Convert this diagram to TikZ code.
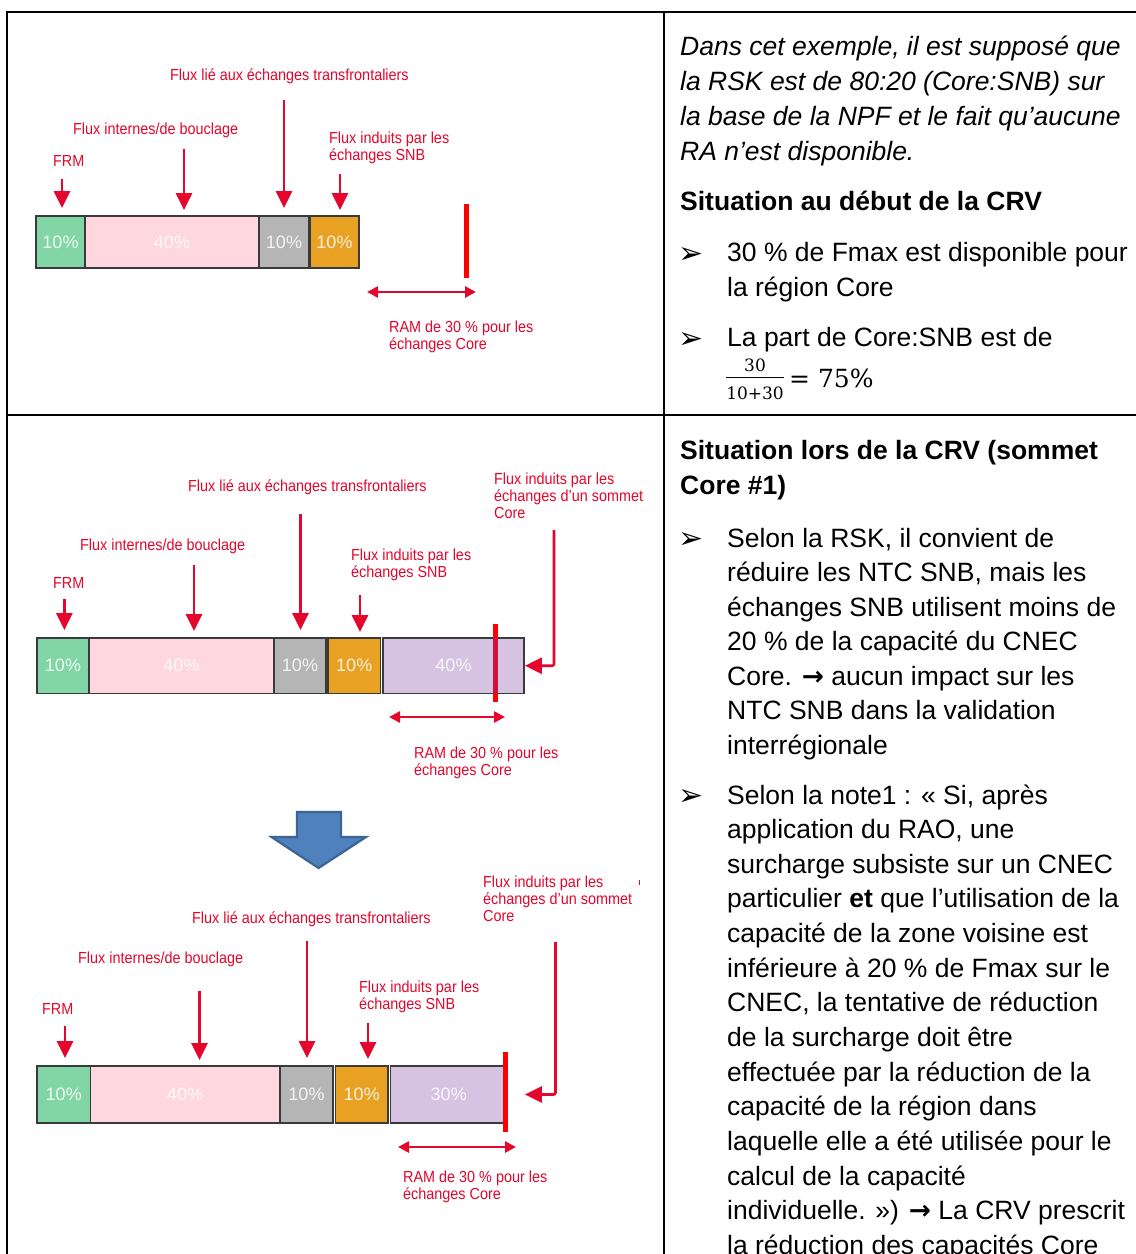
\documentclass[tikz,border=0pt]{standalone}
\usepackage{fontspec}
\setmainfont{Liberation Sans}
\newfontfamily\dvfont{DejaVu Sans}
\newfontfamily\numfont{DejaVu Serif}
\usetikzlibrary{arrows.meta}

\definecolor{lblred}{HTML}{E4062C}
\definecolor{linered}{HTML}{FF0000}
\definecolor{darkred}{HTML}{D0103C}
\definecolor{cgreen}{HTML}{82D5A4}
\definecolor{cpink}{HTML}{FFD7DE}
\definecolor{cgray}{HTML}{B5B5B5}
\definecolor{corange}{HTML}{E8A123}
\definecolor{cpurple}{HTML}{D6C3E2}
\definecolor{cellline}{HTML}{3A3A3A}
\definecolor{bfill}{HTML}{4F81BD}
\definecolor{bline}{HTML}{3C6494}

% red multi-line labels, one node per line
\newcommand\redlines[4]{\foreach \s [count=\k from 0] in {#4} {\node[lbl] (#1\k) at (#2,{#3+17*\k}) {\s};}}
% body text lines of the right column
\newcommand\bodylines[6]{\foreach \s [count=\k from 0] in {#6} {\node[rtxt,#4] (#1\k) at (#2,{#3+#5*\k}) {\s};}}
% bold arrow used inside the body text
\newcommand\txtarrow{{\dvfont\bfseries →}}

\begin{document}
\begin{tikzpicture}[x=1pt,y=-1pt,
  lbl/.style={anchor=base west, inner sep=0pt, text=lblred, font=\fontsize{16}{17}\selectfont, xscale=0.9},
  rtxt/.style={anchor=base west, inner sep=0pt, font=\fontsize{26.5}{30}\selectfont},
  rit/.style={font=\fontsize{26.5}{30}\selectfont\itshape},
  rbf/.style={font=\fontsize{26.5}{30}\selectfont\bfseries},
  bul/.style={anchor=base west, inner sep=0pt, font=\dvfont\fontsize{30}{30}\selectfont},
  cell/.style={draw=cellline, line width=1.8pt, inner sep=0pt, text=white, text opacity=0.85,
    font=\fontsize{18}{20}\selectfont},
  redarr/.style={draw=lblred, line width=2.6pt, -{Triangle[length=17pt,width=16pt]}},
  dblarr/.style={draw=lblred, line width=2.6pt, {Triangle[length=11pt,width=11pt]}-{Triangle[length=11pt,width=11pt]}},
  marker/.style={draw=linered, line width=5pt},
  frame/.style={draw=black, line width=2pt}]

\useasboundingbox (0,0) rectangle (1136,1254);
\fill[white] (0,0) rectangle (1136,1254);
\clip (0,0) rectangle (1136,1254);

% ---------- table rules ----------
\draw[frame] (6,12) -- (1136,12);
\draw[frame] (7,11) -- (7,1254);
\draw[frame] (664,12) -- (664,1254);
\draw[frame] (7,414.5) -- (1136,414.5);

% ---------- first bar: start of the CRV ----------
\node[cell, fill=cgreen,  minimum width=49pt,  minimum height=52pt] (p1g) at (60.5,242) {10\%};
\node[cell, fill=cpink,   minimum width=174pt, minimum height=52pt] (p1k) at (172,242) {40\%};
\node[cell, fill=cgray,   minimum width=50pt,  minimum height=52pt] (p1s) at (284,242) {10\%};
\node[cell, fill=corange, minimum width=49pt,  minimum height=52pt] (p1o) at (334.5,242) {10\%};

\redlines{pA}{170}{80.5}{Flux lié aux échanges transfrontaliers}
\redlines{pB}{73}{134.5}{Flux internes/de bouclage}
\redlines{pC}{53}{166.5}{FRM}
\redlines{pD}{329}{143.5}{Flux induits par les,échanges SNB}
\redlines{pE}{389}{332.5}{RAM de 30 \% pour les,échanges Core}

\coordinate (p1a1) at (62,179);
\coordinate (p1a2) at (184,149);
\coordinate (p1a3) at (284,100);
\coordinate (p1a4) at (340,174);
\draw[redarr, shorten >=7pt] (p1a1) -- (p1a1 |- p1g.north);
\draw[redarr, shorten >=5pt] (p1a2) -- (p1a2 |- p1k.north);
\draw[redarr, shorten >=7pt] (p1a3) -- (p1a3 |- p1s.north);
\draw[redarr, shorten >=5pt] (p1a4) -- (p1a4 |- p1o.north);

\coordinate (p1m1) at (466,204);
\coordinate (p1m2) at (466,278);
\draw[marker] (p1m1) -- (p1m2);
\coordinate (p1d1) at (367,292);
\coordinate (p1d2) at (476,292);
\draw[dblarr] (p1d1) -- (p1d2);

% ---------- second bar: Core #1 ----------
\node[cell, fill=cgreen,  minimum width=52pt,   minimum height=55.5pt] (p2g) at (63,665.75) {10\%};
\node[cell, fill=cpink,   minimum width=185pt,  minimum height=55.5pt] (p2k) at (181.5,665.75) {40\%};
\node[cell, fill=cgray,   minimum width=52pt,   minimum height=55.5pt] (p2s) at (300,665.75) {10\%};
\node[cell, fill=corange, minimum width=52.5pt, minimum height=55.5pt] (p2o) at (354.25,665.75) {10\%};
\node[cell, fill=cpurple, minimum width=141pt,  minimum height=55.5pt] (p2p) at (453.5,665.75) {40\%};

\redlines{qA}{188}{491.5}{Flux lié aux échanges transfrontaliers}
\redlines{qF}{494}{484.5}{Flux induits par les,échanges d’un sommet,Core}
\redlines{qB}{80}{550.5}{Flux internes/de bouclage}
\redlines{qD}{351}{560.5}{Flux induits par les,échanges SNB}
\redlines{qC}{53}{588.5}{FRM}
\redlines{qE}{414}{758.5}{RAM de 30 \% pour les,échanges Core}

\coordinate (p2a1) at (64.4,599);
\coordinate (p2a2) at (194,565);
\coordinate (p2a3) at (300.5,514);
\coordinate (p2a4) at (360,595);
\coordinate (p2a5) at (554,530);
\draw[redarr, shorten >=7pt] (p2a1) -- (p2a1 |- p2g.north);
\draw[redarr, shorten >=6pt] (p2a2) -- (p2a2 |- p2k.north);
\draw[redarr, shorten >=7pt] (p2a3) -- (p2a3 |- p2s.north);
\draw[redarr, shorten >=5pt] (p2a4) -- (p2a4 |- p2o.north);
\draw[redarr, rounded corners=2pt] (p2a5) |- (p2p.east);

\coordinate (p2m1) at (495,624);
\coordinate (p2m2) at (495,702);
\draw[marker] (p2m1) -- (p2m2);
\draw[marker, draw=darkred] (p2m1 |- p2p.north) -- (p2m1 |- p2p.south);
\coordinate (p2d1) at (389,717);
\coordinate (p2d2) at (505,717);
\draw[dblarr] (p2d1) -- (p2d2);

% ---------- transition arrow ----------
\draw[bline, fill=bfill, line width=2.2pt, line join=miter]
  (297,812) -- (341,812) -- (341,837) -- (366,837) -- (318.6,868) -- (271.5,837) -- (297,837) -- cycle;

% ---------- third bar: after reduction ----------
\node[cell, fill=cgreen,  minimum width=53.5pt,  minimum height=57pt] (p3g) at (63.75,1094.5) {10\%};
\node[cell, fill=cpink,   minimum width=189.5pt, minimum height=57pt] (p3k) at (185.25,1094.5) {40\%};
\node[cell, fill=cgray,   minimum width=53pt,    minimum height=57pt] (p3s) at (306.5,1094.5) {10\%};
\node[cell, fill=corange, minimum width=52.5pt,  minimum height=57pt] (p3o) at (361.75,1094.5) {10\%};
\node[cell, fill=cpurple, minimum width=116.5pt, minimum height=57pt] (p3p) at (448.75,1094.5) {30\%};

\redlines{rF}{483}{887.5}{Flux induits par les,échanges d’un sommet,Core}
\redlines{rA}{192}{923.5}{Flux lié aux échanges transfrontaliers}
\redlines{rB}{78}{963.5}{Flux internes/de bouclage}
\redlines{rD}{359}{992.5}{Flux induits par les,échanges SNB}
\redlines{rC}{42}{1014.5}{FRM}
\redlines{rE}{403}{1182.5}{RAM de 30 \% pour les,échanges Core}
\draw[lblred, line width=0.8pt] (639,880) -- (639,884.5);

\coordinate (p3a1) at (65,1026);
\coordinate (p3a2) at (199.5,991);
\coordinate (p3a3) at (307,941);
\coordinate (p3a4) at (368,1023);
\coordinate (p3a5) at (555.5,942);
\draw[redarr, shorten >=7pt] (p3a1) -- (p3a1 |- p3g.north);
\draw[redarr, shorten >=5pt] (p3a2) -- (p3a2 |- p3k.north);
\draw[redarr, shorten >=7pt] (p3a3) -- (p3a3 |- p3s.north);
\draw[redarr, shorten >=6pt] (p3a4) -- (p3a4 |- p3o.north);
\draw[redarr, rounded corners=2pt, shorten >=17pt] (p3a5) |- (p3p.east);

\coordinate (p3m1) at (505,1052);
\coordinate (p3m2) at (505,1132);
\draw[marker] (p3m1) -- (p3m2);
\coordinate (p3d1) at (398,1147);
\coordinate (p3d2) at (516,1147);
\draw[dblarr] (p3d1) -- (p3d2);

% ---------- right column, upper cell ----------
\bodylines{ta}{680}{55}{rit}{35}{{Dans cet exemple, il est supposé que},{la RSK est de 80:20 (Core:SNB) sur},{la base de la NPF et le fait qu’aucune},{RA n’est disponible.}}
\bodylines{tb}{680}{210.5}{rbf}{35}{{Situation au début de la CRV}}
\node[bul] (tbul1) at (678,263) {➢};
\bodylines{tc}{727}{261.5}{}{35}{{30 \% de Fmax est disponible pour},{la région Core}}
\node[bul] (tbul2) at (678,348) {➢};
\bodylines{td}{727}{346.5}{}{35}{{La part de Core:SNB est de}}
% the ratio 30/(10+30)
\node[anchor=base, inner sep=0pt, font=\numfont\fontsize{17}{18}\selectfont] (fnum) at (755,371) {30};
\node[anchor=base, inner sep=0pt, font=\numfont\fontsize{17}{18}\selectfont] (fden) at (755,399) {10+30};
\draw[line width=1.4pt] (fden.west |- 0,377.5) -- (fden.east |- 0,377.5);
\node[anchor=base west, inner sep=0pt, font=\numfont\fontsize{25}{26}\selectfont] (feq) at (789,387) {= 75\%};

% ---------- right column, lower cell ----------
\bodylines{ua}{680}{459}{rbf}{35}{{Situation lors de la CRV (sommet},{Core \#1)}}
\node[bul] (ubul1) at (678,548.5) {➢};
\bodylines{ub}{727}{547}{}{34.5}{{Selon la RSK, il convient de},{réduire les NTC SNB, mais les},{échanges SNB utilisent moins de},{20 \% de la capacité du CNEC},{Core. \txtarrow{} aucun impact sur les},{NTC SNB dans la validation},{interrégionale}}
\node[bul] (ubul2) at (678,805.5) {➢};
\bodylines{uc}{727}{804}{}{34.65}{{Selon la note1 : « Si, après},{application du RAO, une},{surcharge subsiste sur un CNEC},{particulier \textbf{et} que l’utilisation de la},{capacité de la zone voisine est},{inférieure à 20 \% de Fmax sur le},{CNEC, la tentative de réduction},{de la surcharge doit être},{effectuée par la réduction de la},{capacité de la région dans},{laquelle elle a été utilisée pour le},{calcul de la capacité},{individuelle. ») \txtarrow{} La CRV prescrit},{la réduction des capacités Core}}

\end{tikzpicture}
\end{document}
